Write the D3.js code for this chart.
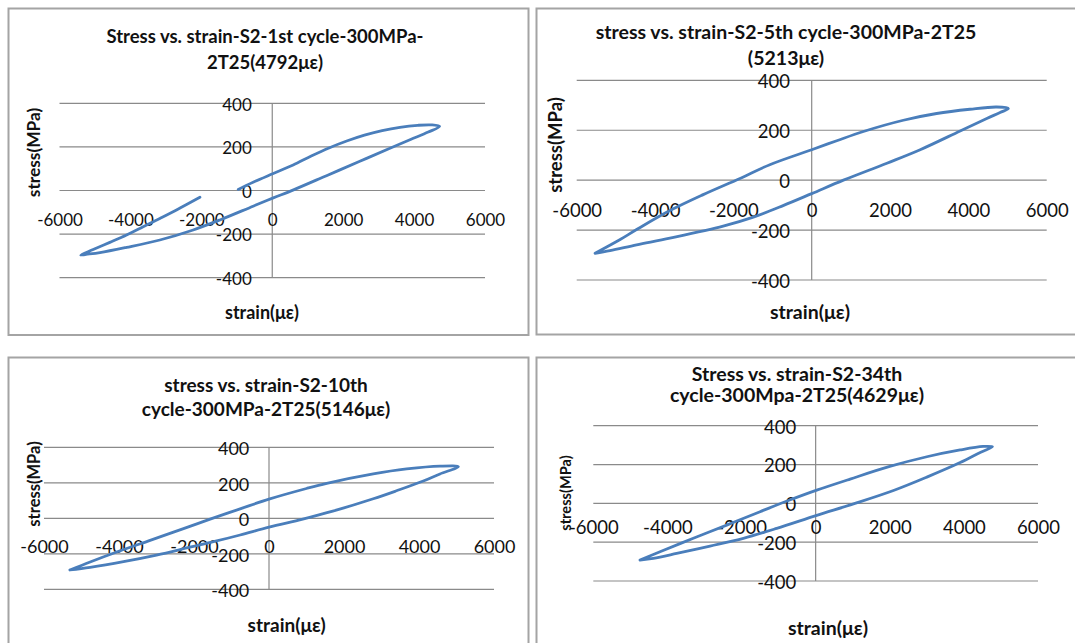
<!DOCTYPE html>
<meta charset="utf-8">
<script src="https://d3js.org/d3.v7.min.js"></script>
<style>
  body { margin: 0; background: #fff; }
  svg { display: block; font-family: Lato, "Open Sans", sans-serif; }
</style>
<body>
<div id="chart_area"></div>
<script>

    // axis ticks shared by all four charts
    let xTicks = [-6000, -4000, -2000, 0, 2000, 4000, 6000];
    let yTicks = [-400, -200, 0, 200, 400];

    let xLabel = "strain(με)";
    let yLabel = "stress(MPa)";

    let titles = [
        ["Stress vs. strain-S2-1st cycle-300MPa-", "2T25(4792με)"],
        ["stress vs. strain-S2-5th cycle-300MPa-2T25", "(5213με)"],
        ["stress vs. strain-S2-10th", "cycle-300MPa-2T25(5146με)"],
        ["Stress vs. strain-S2-34th", "cycle-300Mpa-2T25(4629με)"]
    ];

    // loop points, in drawing order
    let cycle1Strain = [-960, -540, 30, 590, 1100, 1600, 2100, 2600, 3100, 3600, 4100, 4500, 4720, 4400, 3900, 3320, 2470, 1530, 600, 30, -540, -1475, -2230, -3170, -4110, -4860, -5250, -5400, -5050, -4580, -4110, -3640, -3170, -2700, -2040];
    let cycle1Stress = [5, 38, 78, 117, 158, 195, 227, 254, 275, 290, 299, 301, 294, 268, 234, 194, 134, 68, 3, -34, -72, -135, -181, -227, -261, -285, -293, -296, -271, -238, -204, -166, -128, -89, -31];

    let cycle5Strain = [-5530, -4890, -4470, -3620, -2770, -1830, -1070, 0, 640, 1320, 2340, 3190, 4040, 4720, 5020, 4810, 4470, 3790, 2770, 1920, 810, 0, -730, -1490, -2260, -3620, -4470, -5150, -5530];
    let cycle5Stress = [-293, -238, -198, -122, -58, 7, 62, 122, 158, 195, 240, 267, 284, 293, 287, 271, 247, 197, 122, 68, 0, -54, -102, -148, -184, -232, -259, -282, -293];

    let cycle10Strain = [-5310, -4770, -4060, -3170, -2280, -1570, -770, 0, 1000, 1540, 2780, 3670, 4560, 5050, 4560, 4115, 3400, 2780, 1700, 900, 0, -770, -1480, -2110, -3000, -3880, -4770, -5310];
    let cycle10Stress = [-291, -246, -190, -124, -58, -5, 53, 108, 168, 197, 250, 278, 294, 291, 250, 210, 155, 110, 40, -5, -50, -94, -132, -163, -207, -244, -276, -291];

    let cycle34Strain = [-4740, -4200, -3300, -2400, -1500, -700, 30, 930, 2000, 3000, 3900, 4520, 4770, 4440, 3900, 3000, 2100, 1020, 30, -1050, -1950, -2850, -3750, -4380, -4740];
    let cycle34Stress = [-292, -249, -180, -112, -43, 17, 68, 125, 190, 240, 275, 293, 292, 262, 210, 135, 66, -3, -62, -129, -180, -220, -258, -283, -292];

    // layout of each chart box (pixels)
    let panels = [
        {title: titles[0], strain: cycle1Strain, stress: cycle1Stress,
         box: [8.5, 8.5, 520, 326.5], plot: [59.5, 485, 103.3, 277.7],
         tick: 17, xPad: 29.5, yGap: 20.5,
         titleSize: 18.5, titleX: 265, titleY: [43, 69],
         yTitle: [33.7, 152.5, 17.3], xTitle: [262, 319, 18]},
        {title: titles[1], strain: cycle5Strain, stress: cycle5Stress,
         box: [536.5, 8.5, 560, 326], plot: [576.7, 1046.7, 80.3, 280],
         tick: 18.5, xPad: 30, yGap: 21.7,
         titleSize: 19.5, titleX: 786, titleY: [39, 65],
         yTitle: [556, 145, 18.5], xTitle: [810, 319, 19.5]},
        {title: titles[2], strain: cycle10Strain, stress: cycle10Stress,
         box: [8.5, 357.5, 520, 300], plot: [44, 494, 447.3, 589.3],
         tick: 18, xPad: 28.4, yGap: 19.7,
         titleSize: 19, titleX: 266, titleY: [391.5, 416],
         yTitle: [33.8, 484, 16.5], xTitle: [286.7, 631.7, 19]},
        {title: titles[3], strain: cycle34Strain, stress: cycle34Stress,
         box: [536.5, 357.5, 560, 300], plot: [593.3, 1038, 425.7, 581],
         tick: 18.5, xPad: 24, yGap: 19.4,
         titleSize: 19.5, titleX: 797, titleY: [380.7, 401.7],
         yTitle: [566, 493, 14.6], xTitle: [828, 635, 19.5]}
    ];

    let svg = d3.select("#chart_area")
                .append("svg")
                    .attr("width", 1075)
                    .attr("height", 643);

    svg.append("rect")
        .attr("width", 1075)
        .attr("height", 643)
        .attr("fill", "white");

    panels.forEach(drawPanel);

    function drawPanel(p) {
        let g = svg.append("g");

        // outer chart frame
        g.append("rect")
            .attr("x", p.box[0])
            .attr("y", p.box[1])
            .attr("width", p.box[2])
            .attr("height", p.box[3])
            .attr("fill", "white")
            .attr("stroke", "#a4a4a4")
            .attr("stroke-width", 2);

        let x = d3.scaleLinear().domain([-6000, 6000]).range([p.plot[0], p.plot[1]]);
        let y = d3.scaleLinear().domain([-400, 400]).range([p.plot[3], p.plot[2]]);

        // horizontal gridlines
        g.selectAll("gridLines")
            .data(yTicks)
            .enter()
            .append("line")
                .attr("x1", x(-6000))
                .attr("x2", x(6000))
                .attr("y1", d => y(d))
                .attr("y2", d => y(d))
                .attr("stroke", "#8a8a8a")
                .attr("stroke-width", 1.2);

        // vertical axis line through zero strain
        g.append("line")
            .attr("x1", x(0))
            .attr("x2", x(0))
            .attr("y1", y(400))
            .attr("y2", y(-400))
            .attr("stroke", "#8a8a8a")
            .attr("stroke-width", 1.2);

        // x axis labels hang under the zero line
        let xAxis = g.append("g")
            .attr("transform", "translate(0," + y(0) + ")")
            .call(d3.axisBottom(x)
                .tickValues(xTicks)
                .tickSize(0)
                .tickPadding(p.xPad - 0.71 * p.tick + 0.36 * p.tick)
                .tickFormat(d => d.toString()));

        let yAxis = g.append("g")
            .attr("transform", "translate(" + x(0) + ",0)")
            .call(d3.axisLeft(y)
                .tickValues(yTicks)
                .tickSize(0)
                .tickPadding(p.yGap)
                .tickFormat(d => d.toString()));

        [xAxis, yAxis].forEach(a => {
            a.select(".domain").remove();
            a.selectAll("text")
                .style("font-family", "Lato, sans-serif")
                .style("font-size", p.tick + "px")
                .attr("fill", "#111");
        });
        yAxis.selectAll("text").attr("dy", "0.4em");

        // chart title (two lines)
        g.selectAll("titleLines")
            .data(p.title)
            .enter()
            .append("text")
                .attr("x", p.titleX)
                .attr("y", (d, i) => p.titleY[i])
                .attr("text-anchor", "middle")
                .style("font-weight", "bold")
                .style("font-size", p.titleSize + "px")
                .attr("fill", "#111")
                .text(d => d);

        g.append("text")
            .attr("transform", "translate(" + p.yTitle[0] + "," + p.yTitle[1] + ") rotate(-90)")
            .attr("dy", "0.35em")
            .attr("text-anchor", "middle")
            .style("font-weight", "bold")
            .style("font-size", p.yTitle[2] + "px")
            .attr("fill", "#111")
            .text(yLabel);

        g.append("text")
            .attr("x", p.xTitle[0])
            .attr("y", p.xTitle[1])
            .attr("text-anchor", "middle")
            .style("font-weight", "bold")
            .style("font-size", p.xTitle[2] + "px")
            .attr("fill", "#111")
            .text(xLabel);

        // the hysteresis loop
        let points = p.strain.map((s, i) => [s, p.stress[i]]);
        let lineMaker = d3.line()
            .x(d => x(d[0]))
            .y(d => y(d[1]))
            .curve(d3.curveCatmullRom.alpha(0.5));

        g.append("path")
            .attr("d", lineMaker(points))
            .attr("fill", "none")
            .attr("stroke", "#4a7ebb")
            .attr("stroke-width", 2.8)
            .attr("stroke-linejoin", "round")
            .attr("stroke-linecap", "round");
    }

</script>
</body>
